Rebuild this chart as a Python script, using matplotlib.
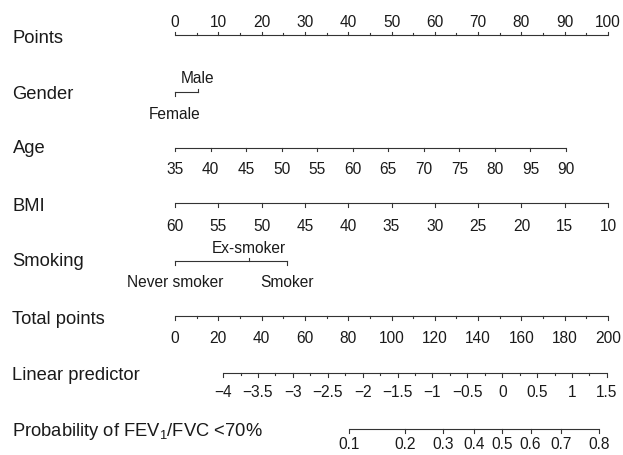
import numpy as np
import matplotlib
matplotlib.use('Agg')
import matplotlib.pyplot as plt

plt.rcParams['font.family'] = ['Liberation Sans', 'DejaVu Sans']
plt.rcParams['mathtext.fontset'] = 'custom'
plt.rcParams['mathtext.rm'] = 'Liberation Sans'
plt.rcParams['mathtext.it'] = 'Liberation Sans'

# Points scale
points_ticks = list(range(0, 101, 10))
points_minor = list(range(5, 100, 10))

# Gender (points per level)
gender_levels = ['Female', 'Male']
gender_points = [0, 5.3]

# Age: values and labels as printed (the "95" is in the original)
age_values = [35, 40, 45, 50, 55, 60, 65, 70, 75, 80, 85, 90]
age_labels = ['35', '40', '45', '50', '55', '60', '65', '70', '75', '80', '95', '90']
age_points_end = [0, 90.3]      # points at age 35 and 90

# BMI (reversed)
bmi_values = [60, 55, 50, 45, 40, 35, 30, 25, 20, 15, 10]
bmi_points_end = [0, 100]       # points at BMI 60 and 10

# Smoking
smoking_levels = ['Never smoker', 'Ex-smoker', 'Smoker']
smoking_points = [0, 17.1, 25.9]

# Total points
total_ticks = list(range(0, 201, 20))
total_minor = list(range(10, 200, 20))

# Linear predictor
lp_ticks = [-4, -3.5, -3, -2.5, -2, -1.5, -1, -0.5, 0, 0.5, 1, 1.5]
lp_labels = ['\u22124', '\u22123.5', '\u22123', '\u22122.5', '\u22122', '\u22121.5',
             '\u22121', '\u22120.5', '0', '0.5', '1', '1.5']
lp_minor = [-3.75, -3.25, -2.75, -2.25, -1.75, -1.25, -0.75, -0.25, 0.25, 0.75, 1.25]
lp_total_end = [22.2, 199.5]    # total points at lp -4 and 1.5

# Probability
prob_ticks = [0.1, 0.2, 0.3, 0.4, 0.5, 0.6, 0.7, 0.8]
prob_labels = ['0.1', '0.2', '0.3', '0.4', '0.5', '0.6', '0.7', '0.8']

LINE = '#333333'
TXT = '#1a1a1a'
TICK_FS = 11.2
CAT_FS = 11.2
NAME_FS = 13.2

fig = plt.figure(figsize=(6.23, 4.55), dpi=100)
ax = fig.add_axes([0, 0, 1, 1])
px = 4.33  # pixels per point
ax.set_xlim(-175 / px, (623 - 175) / px)
ax.set_ylim(455, 0)
ax.axis('off')


def to_pts_total(tp):
    return np.asarray(tp, dtype=float) / 2.0


def lp_to_pts(lp):
    lp = np.asarray(lp, dtype=float)
    tp = lp_total_end[0] + (lp + 4) * (lp_total_end[1] - lp_total_end[0]) / 5.5
    return to_pts_total(tp)


def draw_axis(y, pos, labels, side, lab_y, minor=None, fs=TICK_FS):
    pos = np.asarray(pos, dtype=float)
    ax.plot([pos.min(), pos.max()], [y, y], color=LINE, lw=0.8, solid_capstyle='butt')
    d = -3.5 if side == 'up' else 3.5
    for x in pos:
        ax.plot([x, x], [y, y + d], color=LINE, lw=0.8)
    if minor is not None:
        for x in minor:
            ax.plot([x, x], [y, y + d * 0.55], color=LINE, lw=0.8)
    for x, s in zip(pos, labels):
        ax.text(x, lab_y, s, ha='center', va='baseline', fontsize=fs, color=TXT)


def name(y, s):
    ax.text(-162.5 / px, y, s, ha='left', va='baseline', fontsize=NAME_FS, color=TXT)


# Points
draw_axis(35, points_ticks, [str(v) for v in points_ticks], 'up', 27, minor=points_minor)
name(43, 'Points')

# Gender
gy = 92
ax.plot(gender_points, [gy, gy], color=LINE, lw=0.8)
ax.plot([gender_points[0]] * 2, [gy, gy + 3.5], color=LINE, lw=0.8)
ax.plot([gender_points[1]] * 2, [gy, gy - 3.5], color=LINE, lw=0.8)
ax.text(gender_points[1], 83, gender_levels[1], ha='center', va='baseline', fontsize=CAT_FS, color=TXT)
ax.text(gender_points[0], 119, gender_levels[0], ha='center', va='baseline', fontsize=CAT_FS, color=TXT)
name(99, 'Gender')

# Age
age_pos = age_points_end[0] + (np.array(age_values) - 35) * (age_points_end[1] - age_points_end[0]) / 55
draw_axis(147.5, age_pos, age_labels, 'down', 174)
name(153, 'Age')

# BMI
bmi_pos = bmi_points_end[0] + (60 - np.array(bmi_values)) * (bmi_points_end[1] - bmi_points_end[0]) / 50
draw_axis(203, bmi_pos, [str(v) for v in bmi_values], 'down', 231)
name(211, 'BMI')

# Smoking
sy = 261
ax.plot([min(smoking_points), max(smoking_points)], [sy, sy], color=LINE, lw=0.8)
for x, lev, up in zip(smoking_points, smoking_levels, [False, True, False]):
    ax.plot([x, x], [sy, sy - 3.5 if up else sy + 3.5], color=LINE, lw=0.8)
    ax.text(x, 253 if up else 287, lev, ha='center', va='baseline', fontsize=CAT_FS, color=TXT)
name(266, 'Smoking')

# Total points
draw_axis(316, to_pts_total(total_ticks), [str(v) for v in total_ticks], 'down', 343,
          minor=to_pts_total(total_minor))
name(324, 'Total points')

# Linear predictor
draw_axis(373, lp_to_pts(lp_ticks), lp_labels, 'down', 397, minor=lp_to_pts(lp_minor))
name(380, 'Linear predictor')

# Probability
prob_lp = np.log(np.array(prob_ticks) / (1 - np.array(prob_ticks)))
draw_axis(429, lp_to_pts(prob_lp), prob_labels, 'down', 449)
name(436, r'Probability of FEV$_\mathrm{1}$/FVC <70%')

fig.savefig('out.png', dpi=100)
